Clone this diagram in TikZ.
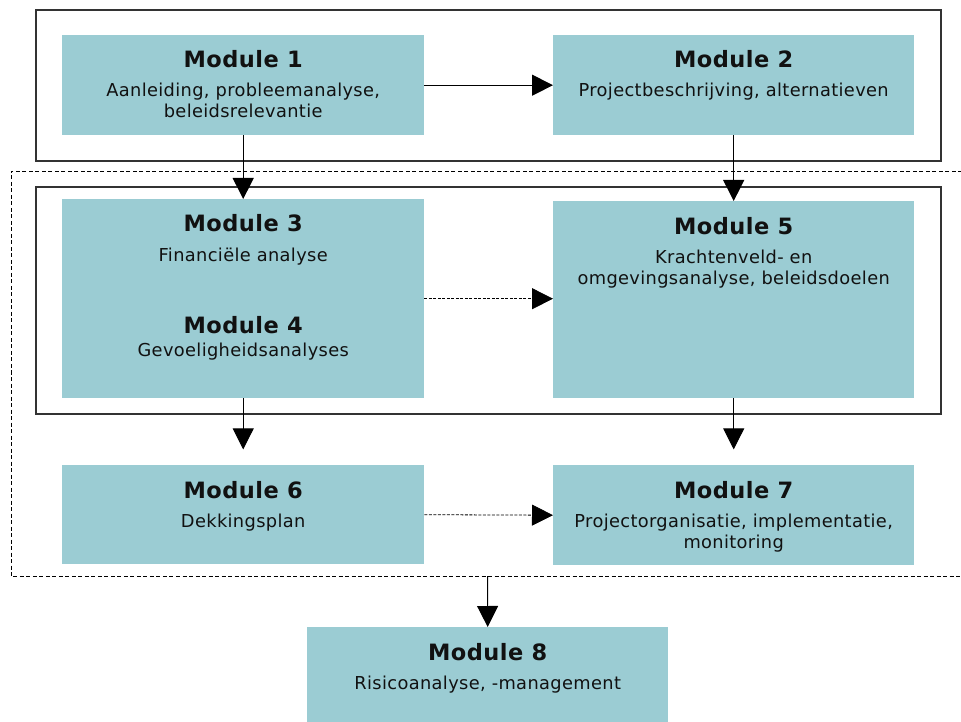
\documentclass[tikz,border=0pt]{standalone}
\usepackage{fontspec}
\setmainfont{DejaVu Sans}[LetterSpace=2]
\usetikzlibrary{arrows.meta,calc}
\definecolor{boxfill}{RGB}{155,204,211}
\definecolor{txt}{RGB}{17,17,17}
\begin{document}
\begin{tikzpicture}[x=1pt,y=-1pt,
  modbox/.style={fill=boxfill, draw=none, anchor=north west, inner sep=0pt,
    minimum width=362pt, minimum height=100pt},
  title/.style={font=\fontsize{22.5}{26}\selectfont\bfseries, text=txt, anchor=base, inner sep=0pt},
  sub/.style={font=\fontsize{17.8}{20}\selectfont, text=txt, anchor=base, inner sep=0pt},
  groupbox/.style={draw=black!80, line width=1.3pt},
  dashbox/.style={draw=black, line width=0.9pt, dash pattern=on 4pt off 2.5pt},
  arr/.style={draw=black, line width=1pt, -{Triangle[length=21pt,width=21pt]}},
  darr/.style={draw=black, line width=0.8pt, dash pattern=on 3pt off 1.5pt, -{Triangle[length=21pt,width=21pt]}}
]
\useasboundingbox (0,0) rectangle (961,722);
% group frames
\draw[groupbox] (36,10) rectangle (941,161);
\draw[groupbox] (36,187) rectangle (941,414);
\draw[dashbox] (962,171) -- (11,171) -- (11,576) -- (962,576);
% module boxes
\node[modbox] (m1) at (62,35) {};
\node[modbox, minimum width=361pt] (m2) at (553,35) {};
\node[modbox, minimum height=199pt] (m34) at (62,199) {};
\node[modbox, minimum width=361pt, minimum height=197pt] (m5) at (553,201) {};
\node[modbox, minimum height=99pt] (m6) at (62,465) {};
\node[modbox, minimum width=361pt] (m7) at (553,465) {};
\node[modbox, minimum width=361pt, minimum height=95pt] (m8) at (307,627) {};
% texts
\node[title] (t1) at ($(m1.north)+(0,33)$) {Module 1};
\node[sub] (s1a) at ($(m1.north)+(0,62)$) {Aanleiding, probleemanalyse,};
\node[sub] (s1b) at ($(m1.north)+(0,83)$) {beleidsrelevantie};
\node[title] (t2) at ($(m2.north)+(0,33)$) {Module 2};
\node[sub] (s2a) at ($(m2.north)+(0,62)$) {Projectbeschrijving, alternatieven};
\node[title] (t3) at ($(m34.north)+(0,33)$) {Module 3};
\node[sub] (s3a) at ($(m34.north)+(0,62)$) {Financiële analyse};
\node[title] (t4) at ($(m34.north)+(0,134)$) {Module 4};
\node[sub] (s4a) at ($(m34.north)+(0,157)$) {Gevoeligheidsanalyses};
\node[title] (t5) at ($(m5.north)+(0,33)$) {Module 5};
\node[sub] (s5a) at ($(m5.north)+(0,62)$) {Krachtenveld- en};
\node[sub] (s5b) at ($(m5.north)+(0,83)$) {omgevingsanalyse, beleidsdoelen};
\node[title] (t6) at ($(m6.north)+(0,33)$) {Module 6};
\node[sub] (s6a) at ($(m6.north)+(0,62)$) {Dekkingsplan};
\node[title] (t7) at ($(m7.north)+(0,33)$) {Module 7};
\node[sub] (s7a) at ($(m7.north)+(0,62)$) {Projectorganisatie, implementatie,};
\node[sub] (s7b) at ($(m7.north)+(0,83)$) {monitoring};
\node[title] (t8) at ($(m8.north)+(0,33)$) {Module 8};
\node[sub] (s8a) at ($(m8.north)+(0,62)$) {Risicoanalyse, -management};
% connectors
\coordinate (c6) at ($(m34.south)+(0,51)$);
\coordinate (c7) at ($(m5.south)+(0,51)$);
\coordinate (cd) at (487.5,576);
\draw[arr] (m1.east) -- (m2.west);
\draw[arr] (m1.south) -- (m1.south |- m34.north);
\draw[arr] (m2.south) -- (m2.south |- m5.north);
\draw[darr] (m34.east) -- (m34.east -| m5.west);
\draw[arr] (m34.south) -- (c6);
\draw[arr] (m5.south) -- (c7);
\draw[darr] (m6.east) -- (m7.west);
\draw[arr] (cd) -- (m8.north);
\end{tikzpicture}
\end{document}
